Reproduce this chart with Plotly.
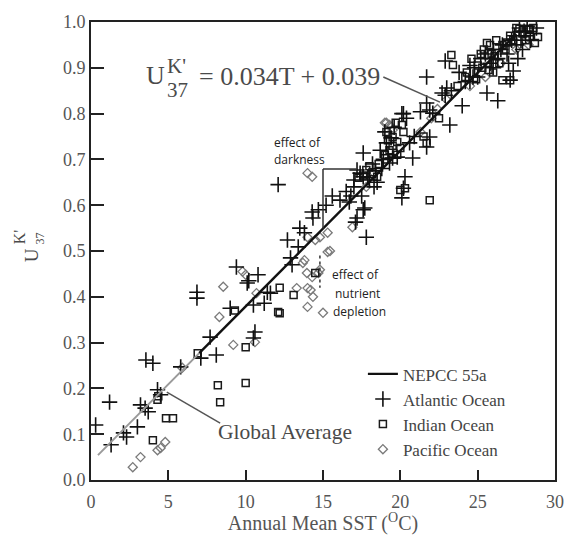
import plotly.graph_objects as go

# ---- data ----
SLOPE = 0.034
INTERCEPT = 0.039
GREY_T = [0.45, 7.0]
BLACK_T = [7.0, 27.5]

atl_x = [0.3, 1.2, 1.3, 2.1, 2.3, 3.0, 3.2, 3.5, 3.7, 3.55, 4.0, 4.3, 4.5, 5.8, 7.1, 8.1,
         6.85, 6.85, 9.4, 10.1, 10.2, 10.8, 9.0, 10.5, 11.2, 10.6, 10.5, 7.7, 11.6, 11.4,
         12.7, 13.4, 12.9, 13.0, 12.1, 14.7, 14.35, 16.1, 16.7, 17.2, 17.1, 17.8, 17.6, 17.6,
         17.7, 17.2, 17.4, 17.6, 18.0, 18.5, 18.9, 19.3, 19.5, 19.1, 19.4, 19.8, 20.2, 20.4,
         20.1, 20.9, 20.8, 20.3, 20.2, 20.1, 20.6, 21.7, 21.7, 21.9, 21.3, 22.1, 21.9, 21.7,
         22.9, 23.0, 23.3, 22.7, 22.9, 24.5, 24.0, 23.2, 25.6, 26.3, 27.1, 27.3, 27.7, 28.2,
         28.8, 24.8, 25.2, 25.5, 25.8, 26.0, 26.3, 26.6, 26.9, 27.2, 27.5, 27.8, 28.1, 28.4,
         25.0, 26.0, 27.0, 27.6, 24.5, 23.8, 24.2, 16.5, 17.0, 17.5, 18.2, 18.7, 19.0, 19.6,
         18.3, 15.2, 15.6, 14.3, 13.8, 13.5,
         26.5, 27.4, 28.0, 28.6, 25.9, 24.7, 27.9, 17.9, 18.4, 17.0, 16.8, 18.8, 19.2]
atl_y = [0.12, 0.17, 0.077, 0.103, 0.094, 0.116, 0.164, 0.157, 0.149, 0.262, 0.255, 0.197,
         0.186, 0.247, 0.266, 0.273, 0.41, 0.397, 0.465, 0.43, 0.435, 0.448, 0.375, 0.382,
         0.386, 0.323, 0.31, 0.312, 0.408, 0.41, 0.524, 0.509, 0.485, 0.47, 0.645, 0.59,
         0.572, 0.611, 0.607, 0.572, 0.563, 0.53, 0.714, 0.59, 0.594, 0.677, 0.67, 0.662,
         0.655, 0.65, 0.70, 0.692, 0.703, 0.736, 0.747, 0.705, 0.80, 0.79, 0.80, 0.75, 0.703,
         0.662, 0.637, 0.616, 0.736, 0.88, 0.823, 0.808, 0.804, 0.801, 0.749, 0.727, 0.915,
         0.856, 0.85, 0.845, 0.84, 0.87, 0.817, 0.775, 0.845, 0.828, 0.873, 0.893, 0.987,
         0.991, 0.987, 0.90, 0.92, 0.93, 0.91, 0.94, 0.92, 0.95, 0.93, 0.96, 0.95, 0.96, 0.97,
         0.96, 0.88, 0.90, 0.91, 0.92, 0.905, 0.89, 0.87, 0.63, 0.64, 0.62, 0.69, 0.72, 0.76,
         0.77, 0.64, 0.60, 0.62, 0.585, 0.54, 0.55,
         0.94, 0.97, 0.98, 0.975, 0.92, 0.88, 0.94, 0.66, 0.675, 0.655, 0.62, 0.68, 0.71]

ind_x = [4.3, 4.35, 4.85, 5.3, 4.0, 6.9, 8.2, 8.35, 9.3, 10.0, 10.0, 12.1, 12.2, 12.2, 13.1,
         14.5, 17.8, 18.2, 18.5, 19.0, 19.3, 19.5, 19.2, 20.3, 20.0, 21.9, 21.5, 21.7, 19.7,
         20.1, 20.2, 19.1, 19.5, 19.8, 20.0, 19.8, 23.3, 23.4, 24.2, 26.6, 27.1, 25.6, 26.0,
         27.5, 28.9, 28.7, 28.6, 24.6, 25.0, 25.4, 25.9, 26.2, 26.8, 27.1, 27.9, 28.3, 24.3,
         25.7, 26.4, 18.6, 17.3, 22.5,
         25.2, 25.8, 26.6, 27.3, 27.7, 28.1, 24.9, 25.3, 26.1, 26.9, 23.7, 17.6, 18.0]
ind_y = [0.175, 0.183, 0.135, 0.135, 0.087, 0.277, 0.207, 0.17, 0.37, 0.29, 0.212, 0.367,
         0.364, 0.42, 0.404, 0.452, 0.677, 0.672, 0.662, 0.71, 0.72, 0.73, 0.742, 0.637, 0.633,
         0.611, 0.75, 0.736, 0.78, 0.775, 0.76, 0.76, 0.749, 0.738, 0.725, 0.71, 0.928, 0.906,
         0.88, 0.873, 0.873, 0.954, 0.89, 0.987, 0.967, 0.954, 0.987, 0.92, 0.905, 0.94, 0.93,
         0.96, 0.94, 0.97, 0.975, 0.985, 0.89, 0.895, 0.91, 0.69, 0.66, 0.79,
         0.93, 0.95, 0.95, 0.96, 0.985, 0.96, 0.875, 0.90, 0.925, 0.955, 0.86, 0.665, 0.685]

pac_x = [2.7, 3.2, 4.3, 4.5, 4.8, 8.55, 8.3, 9.2, 10.6, 10.0, 9.8, 10.7, 13.7, 13.8, 13.96,
         14.35, 14.0, 15.0, 14.8, 13.3, 14.0, 14.8, 14.0, 14.3, 16.9, 14.0, 14.5, 15.3, 15.45,
         14.3, 14.7, 14.2, 19.1, 19.3, 19.5, 19.0, 5.9, 15.3, 22.0, 22.4, 23.0, 24.5, 25.5,
         26.5, 27.5, 28.3, 21.3, 17.8, 18.3]
pac_y = [0.028, 0.05, 0.065, 0.07, 0.083, 0.422, 0.356, 0.295, 0.301, 0.448, 0.455, 0.408,
         0.474, 0.48, 0.452, 0.40, 0.378, 0.365, 0.459, 0.419, 0.419, 0.53, 0.67, 0.662, 0.552,
         0.53, 0.524, 0.54, 0.50, 0.443, 0.452, 0.415, 0.78, 0.775, 0.764, 0.78, 0.245, 0.498,
         0.79, 0.81, 0.83, 0.86, 0.88, 0.91, 0.94, 0.95, 0.76, 0.64, 0.67]

X_TICKS = [0, 5, 10, 15, 20, 25, 30]
Y_TICKS = [0.0, 0.1, 0.2, 0.3, 0.4, 0.5, 0.6, 0.7, 0.8, 0.9, 1.0]

SERIF = "Liberation Serif"
SANS = "Open Sans"
GREY_TXT = "#4a4a4a"

fig = go.Figure()

fig.add_trace(go.Scatter(x=pac_x, y=pac_y, mode="markers", name="Pacific Ocean", legendrank=4,
                         marker=dict(symbol="diamond-open", size=7, color="#7a7a7a",
                                     line=dict(width=1.3, color="#7a7a7a"))))
fig.add_trace(go.Scatter(x=ind_x, y=ind_y, mode="markers", name="Indian Ocean", legendrank=3,
                         marker=dict(symbol="square-open", size=7, color="#1a1a1a",
                                     line=dict(width=1.5, color="#1a1a1a"))))
fig.add_trace(go.Scatter(x=atl_x, y=atl_y, mode="markers", name="Atlantic Ocean", legendrank=2,
                         marker=dict(symbol="cross-thin-open", size=11, color="#111",
                                     line=dict(width=1.6, color="#111"))))
fig.add_trace(go.Scatter(x=GREY_T, y=[SLOPE * t + INTERCEPT for t in GREY_T], mode="lines",
                         showlegend=False, line=dict(color="#9a9a9a", width=2)))
fig.add_trace(go.Scatter(x=BLACK_T, y=[SLOPE * t + INTERCEPT for t in BLACK_T], mode="lines",
                         name="NEPCC 55a", legendrank=1, line=dict(color="#111", width=2.4)))

shape_line = dict(color="#555", width=1.5)
fig.add_shape(type="line", x0=18.9, y0=0.88, x1=22.56, y1=0.825, line=shape_line)
fig.add_shape(type="line", x0=4.9, y0=0.192, x1=8.35, y1=0.124, line=shape_line)
fig.add_shape(type="line", x0=15.0, y0=0.549, x1=15.0, y1=0.679, line=dict(color="#333", width=1.5))
fig.add_shape(type="line", x0=15.0, y0=0.679, x1=17.2, y1=0.679, line=dict(color="#333", width=1.5))
fig.add_shape(type="line", x0=14.8, y0=0.49, x1=14.8, y1=0.42, line=dict(color="#333", width=1.5, dash="dot"))

def ann(text, x, y, size, font=SERIF, color=GREY_TXT, xanchor="center", xref="x", yref="y", angle=0):
    fig.add_annotation(text=text, x=x, y=y, xref=xref, yref=yref, showarrow=False,
                       xanchor=xanchor, yanchor="middle", textangle=angle,
                       font=dict(family=font, size=size, color=color))

# formula
ann("U", 4.14, 0.884, 26)
ann("K'", 5.56, 0.903, 21)
ann("37", 5.62, 0.852, 21)
ann("= 0.034T + 0.039", 6.85, 0.880, 26, xanchor="left")
ann("Global Average", 8.1, 0.105, 21.5, xanchor="left")
ann("effect of", 13.38, 0.738, 12, font=SANS, color="#222")
ann("darkness", 13.45, 0.699, 12, font=SANS, color="#222")
ann("effect of", 17.13, 0.448, 12, font=SANS, color="#222")
ann("nutrient", 17.26, 0.408, 12, font=SANS, color="#222")
ann("depletion", 17.39, 0.367, 12, font=SANS, color="#222")

# y axis title (stacked U K'/37)
ann("U", -0.129, 0.491, 19, xref="paper", yref="paper", angle=-90)
ann("K'", -0.155, 0.530, 16, xref="paper", yref="paper", angle=-90)
ann("37", -0.110, 0.527, 12, xref="paper", yref="paper", angle=-90)

tick_font = dict(family=SERIF, size=18, color="#555")
axis_common = dict(showline=True, linewidth=2, linecolor="#222", mirror=True, showgrid=False,
                   zeroline=False, ticks="inside", tickwidth=2, tickcolor="#222",
                   automargin=False)

fig.update_xaxes(range=[0, 30], tickvals=X_TICKS, ticklen=10, ticklabelstandoff=4,
                 tickfont=tick_font,
                 title=dict(text="Annual Mean SST (<sup>O</sup>C)", standoff=8,
                            font=dict(family=SERIF, size=20, color="#555")),
                 **axis_common)
fig.update_yaxes(range=[0, 1], tickvals=Y_TICKS, tickformat=".1f", ticklen=13,
                 tickfont=tick_font, **axis_common)

fig.update_layout(
    width=566, height=535,
    margin=dict(l=91, r=11, t=22, b=55),
    plot_bgcolor="white", paper_bgcolor="white",
    legend=dict(x=0.586, y=0.27, xanchor="left", yanchor="top", bgcolor="rgba(0,0,0,0)",
                font=dict(family=SERIF, size=17, color="#444"), itemwidth=30,
                tracegroupgap=0),
    showlegend=True,
)

fig.write_html("out.html")
